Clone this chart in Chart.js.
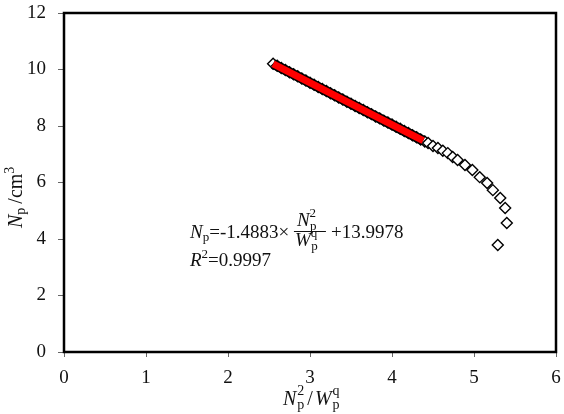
<!DOCTYPE html>
<html>
<head>
<meta charset="utf-8">
<script src="https://cdn.jsdelivr.net/npm/chart.js@4"></script>
<style>
  body { margin: 0; background: #fff; }
  canvas { display: block; }
</style>
</head>
<body>
<canvas id="myChart" width="564" height="414"></canvas>
<script>
// measured points (x = Np^2/Wp^q, y = Np)
let xValues = [2.55, 2.60, 2.65, 2.70, 2.75, 2.80, 2.85, 2.90, 2.95, 3.00,
               3.05, 3.10, 3.15, 3.20, 3.25, 3.30, 3.35, 3.40, 3.45, 3.50,
               3.55, 3.60, 3.65, 3.70, 3.75, 3.80, 3.85, 3.90, 3.95, 4.00,
               4.05, 4.10, 4.15, 4.20, 4.25, 4.30, 4.35, 4.40,
               4.44, 4.50, 4.56, 4.62, 4.68, 4.74, 4.80, 4.89, 4.98, 5.07,
               5.16, 5.23, 5.32, 5.38, 5.40, 5.29];
let yValues = [10.20, 10.13, 10.05, 9.98, 9.90, 9.83, 9.76, 9.68, 9.61, 9.53,
               9.46, 9.38, 9.31, 9.24, 9.16, 9.09, 9.01, 8.94, 8.86, 8.79,
               8.71, 8.64, 8.57, 8.49, 8.42, 8.34, 8.27, 8.19, 8.12, 8.05,
               7.97, 7.90, 7.82, 7.75, 7.67, 7.60, 7.52, 7.45,
               7.40, 7.29, 7.22, 7.12, 7.04, 6.90, 6.80, 6.62, 6.44, 6.19,
               5.98, 5.73, 5.45, 5.10, 4.57, 3.79];

// linear fit segment (red)
let fitX = [2.55, 4.38];
let fitY = [10.20, 7.48];

let xTicks = [0, 1, 2, 3, 4, 5, 6];
let yTicks = [0, 2, 4, 6, 8, 10, 12];

let serif = '"Liberation Serif", "Times New Roman", serif';

// draw a row of text pieces (for sub/superscripts)
function drawRuns(c, x, y, runs) {
    runs.forEach(r => {
        c.font = r.font;
        c.fillText(r.t, x, y + (r.dy || 0));
        x += c.measureText(r.t).width + (r.gap || 0);
    });
    return x;
}

let labelsPlugin = {
    id: 'labels',
    afterDraw(chart) {
        let c = chart.ctx;
        let a = chart.chartArea;
        c.save();
        // frame
        c.strokeStyle = '#000';
        c.lineWidth = 2.5;
        c.strokeRect(a.left, a.top, a.right - a.left, a.bottom - a.top);

        c.fillStyle = '#111';
        c.textBaseline = 'alphabetic';
        c.textAlign = 'left';

        let it = 'italic 20px ' + serif;
        let rg = '20px ' + serif;
        let sm = '14px ' + serif;

        // x axis title
        drawRuns(c, 283, 405, [
            {t: 'N', font: it, gap: 1},
            {t: '2', font: sm, dy: -10, gap: -7},
            {t: 'p', font: sm, dy: 4, gap: 3},
            {t: '/', font: rg, gap: 2},
            {t: 'W', font: it, gap: 1},
            {t: 'q', font: sm, dy: -10, gap: -7},
            {t: 'p', font: sm, dy: 4}
        ]);

        // y axis title
        c.save();
        c.translate(22, 228);
        c.rotate(-Math.PI / 2);
        drawRuns(c, 0, 0, [
            {t: 'N', font: it},
            {t: 'p', font: sm, dy: 3, gap: 4},
            {t: '/cm', font: rg},
            {t: '3', font: sm, dy: -8}
        ]);
        c.restore();

        // equation
        let ef = '19px ' + serif;
        let ei = 'italic 19px ' + serif;
        let es = '13px ' + serif;
        let x = drawRuns(c, 190, 238, [
            {t: 'N', font: ei},
            {t: 'p', font: es, dy: 3},
            {t: '=-1.4883\u00d7 ', font: ef}
        ]);
        // fraction
        drawRuns(c, x + 3, 226, [
            {t: 'N', font: ei},
            {t: '2', font: es, dy: -9, gap: -6},
            {t: 'p', font: es, dy: 4}
        ]);
        c.lineWidth = 1;
        c.strokeStyle = '#111';
        c.beginPath();
        c.moveTo(x, 231.5);
        c.lineTo(x + 32, 231.5);
        c.stroke();
        drawRuns(c, x + 1, 246, [
            {t: 'W', font: ei},
            {t: 'q', font: es, dy: -9, gap: -6},
            {t: 'p', font: es, dy: 4}
        ]);
        drawRuns(c, x + 37, 238, [{t: '+13.9978', font: ef}]);

        drawRuns(c, 190, 266, [
            {t: 'R', font: ei},
            {t: '2', font: es, dy: -8},
            {t: '=0.9997', font: ef}
        ]);
        c.restore();
    }
};

let fitPoints = fitX.map((v, i) => ({x: v, y: fitY[i]}));

let ctx = document.getElementById('myChart').getContext('2d');
let chart = new Chart(ctx, {
    type: 'scatter',
    data: {
        datasets: [{
            type: 'line',
            label: 'fit',
            data: fitPoints,
            borderColor: '#ff0000',
            borderWidth: 7,
            borderCapStyle: 'butt',
            pointRadius: 0,
            fill: false,
            order: 0
        }, {
            // dark edge of the dense marker band under the fit line
            type: 'line',
            label: 'fit edge',
            data: fitPoints,
            borderColor: '#000',
            borderWidth: 10,
            borderCapStyle: 'butt',
            pointRadius: 0,
            fill: false,
            order: 1
        }, {
            label: 'data',
            data: xValues.map((v, i) => ({x: v, y: yValues[i]})),
            pointStyle: 'rectRot',
            pointRadius: 5.5,
            pointBorderWidth: 1.4,
            pointBorderColor: '#000',
            pointBackgroundColor: '#fff',
            order: 2
        }]
    },
    options: {
        responsive: false,
        animation: false,
        layout: {padding: {top: 13, right: 8, left: 0, bottom: 0}},
        plugins: {
            legend: {display: false},
            tooltip: {enabled: false}
        },
        scales: {
            x: {
                type: 'linear',
                min: 0,
                max: 6,
                afterBuildTicks: s => { s.ticks = xTicks.map(v => ({value: v})); },
                afterFit: s => { s.height = 62; s.paddingLeft = 0; s.paddingRight = 0; },
                border: {display: false},
                grid: {drawOnChartArea: false, drawTicks: true, tickLength: 5, tickColor: '#666'},
                ticks: {padding: 10, color: '#111', font: {family: serif, size: 19}}
            },
            y: {
                type: 'linear',
                min: 0,
                max: 12,
                afterBuildTicks: s => { s.ticks = yTicks.map(v => ({value: v})); },
                afterFit: s => { s.width = 64; s.paddingTop = 0; s.paddingBottom = 0; },
                border: {display: false},
                grid: {drawOnChartArea: false, drawTicks: true, tickLength: 6, tickColor: '#666'},
                ticks: {padding: 12, color: '#111', font: {family: serif, size: 19}}
            }
        }
    },
    plugins: [labelsPlugin]
});
</script>
</body>
</html>
